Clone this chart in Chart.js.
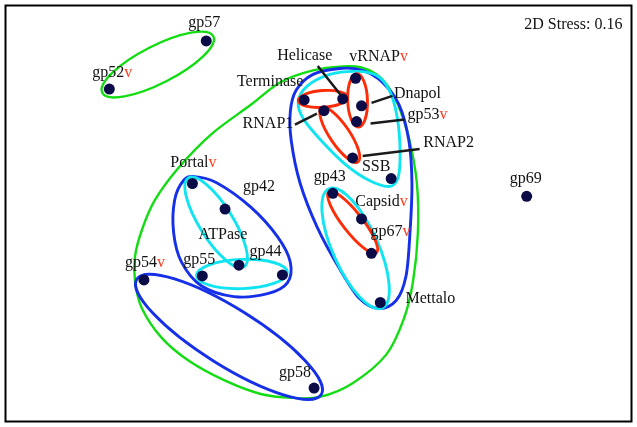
<!DOCTYPE html>
<html>
<head>
<meta charset="utf-8">
<script src="https://cdn.jsdelivr.net/npm/chart.js@4/dist/chart.umd.min.js"></script>
<style>
  html, body { margin: 0; padding: 0; background: #ffffff; }
  #wrap { width: 637px; height: 427px; }
</style>
</head>
<body>
<div id="wrap"><canvas id="mds" width="637" height="427"></canvas></div>
<script>
// Non-metric MDS ordination of gene clusters
const names = ['gp57','gp52','Terminase','Helicase','vRNAP','Dnapol','gp53','RNAP1','RNAP2','SSB',
               'gp43','Capsid','gp67','Mettalo','gp69','Portal','gp42','ATPase','gp55','gp44','gp54','gp58'];
const mdsX  = [-1.13,-2.11,-0.14, 0.25, 0.38, 0.44, 0.39, 0.06, 0.35, 0.74,
                0.15, 0.44, 0.54, 0.63, 2.11,-1.27,-0.94,-0.80,-1.17,-0.36,-1.76,-0.04];
const mdsY  = [ 1.75, 1.26, 1.15, 1.16, 1.37, 1.09, 0.93, 1.04, 0.56, 0.35,
                0.20,-0.06,-0.41,-0.91, 0.17, 0.30, 0.04,-0.53,-0.64,-0.63,-0.68,-1.78];
const markedNames = ['gp52','vRNAP','gp53','Capsid','gp67','Portal','gp54'];
const stressValue = 0.16;

// Cluster outlines drawn as ellipses: centre, semi-axes, rotation (degrees, counter-clockwise)
const ellipseClusters = [
  { level: 'g', cx: -1.62, cy:  1.51,  a: 0.63, b: 0.19,  angle:  27 },
  { level: 'b', cx: -0.90, cy: -1.26,  a: 1.10, b: 0.29,  angle: -32 },
  { level: 'c', cx: -1.03, cy: -0.095, a: 0.53, b: 0.17,  angle: -58 },
  { level: 'c', cx: -0.77, cy: -0.62,  a: 0.46, b: 0.148, angle:   2 },
  { level: 'c', cx:  0.38, cy: -0.36,  a: 0.66, b: 0.23,  angle: -66 },
  { level: 'r', cx:  0.05, cy:  1.16,  a: 0.25, b: 0.085, angle:   4 },
  { level: 'r', cx:  0.40, cy:  1.145, a: 0.27, b: 0.10,  angle: -88 },
  { level: 'r', cx:  0.22, cy:  0.795, a: 0.33, b: 0.10,  angle: -56 },
  { level: 'r', cx:  0.35, cy: -0.095, a: 0.39, b: 0.10,  angle: -52 }
];

// Cluster outlines drawn as smooth closed curves through these vertices
const greenOuterX = [0.25,-0.05,-0.38,-0.68,-1.08,-1.41,-1.65,-1.78,-1.85,-1.85,-1.78,-1.58,-1.31,-0.95,
                     -0.58,-0.25,0.02,0.35,0.69,0.87,0.96,1.01,1.00,0.92,0.81,0.70,0.59,0.44];
const greenOuterY = [1.49,1.45,1.33,1.10,0.80,0.46,0.13,-0.17,-0.44,-0.70,-0.97,-1.27,-1.50,-1.70,
                     -1.84,-1.88,-1.87,-1.73,-1.44,-1.07,-0.70,-0.20,0.30,0.76,1.10,1.30,1.41,1.48];
const blueRightX  = [0.22,0.45,0.65,0.82,0.92,0.95,0.93,0.89,0.79,0.61,0.42,0.22,-0.01,-0.18,-0.27,-0.28,-0.22,-0.05];
const blueRightY  = [1.47,1.45,1.33,1.10,0.73,0.30,-0.20,-0.64,-0.89,-0.97,-0.87,-0.57,-0.14,0.30,0.73,1.03,1.25,1.41];
const cyanTopX    = [-0.20,-0.11,0.12,0.39,0.59,0.72,0.80,0.83,0.81,0.72,0.52,0.27,0.02,-0.15];
const cyanTopY    = [1.13,1.29,1.41,1.44,1.40,1.25,0.98,0.63,0.36,0.27,0.33,0.50,0.75,0.96];
const blueLeftX   = [-1.25,-1.03,-0.68,-0.41,-0.28,-0.31,-0.51,-0.85,-1.18,-1.38,-1.46,-1.45,-1.36];
const blueLeftY   = [0.37,0.31,0.06,-0.24,-0.50,-0.71,-0.82,-0.85,-0.74,-0.50,-0.20,0.13,0.33];

const curveClusters = [
  { level: 'g', xs: greenOuterX, ys: greenOuterY },
  { level: 'b', xs: blueRightX,  ys: blueRightY },
  { level: 'b', xs: blueLeftX,   ys: blueLeftY },
  { level: 'c', xs: cyanTopX,    ys: cyanTopY }
];

// ---- styling / layout ----
const levelColour = { g: '#12dd12', b: '#1530e8', c: '#10e4f0', r: '#ff2c08' };
const levelWidth  = { g: 2.4, b: 2.9, c: 2.9, r: 2.9 };
const levelOrder = ['g', 'b', 'c', 'r'];
const FONT = '16px "Liberation Serif", "Times New Roman", serif';

// label centre offsets from the point (pixels)
const labelOffset = {
  gp57: [-2,-18], gp52: [3,-16], Terminase: [-34,-18], Helicase: [-38,-43], vRNAP: [23,-21],
  Dnapol: [56,-12], gp53: [71,-7], RNAP1: [-56,13], RNAP2: [96,-15], SSB: [-15,-12],
  gp43: [-3,-17], Capsid: [20,-17], gp67: [19,-22], Mettalo: [50,-4], gp69: [-1,-17],
  Portal: [1,-21], gp42: [34,-22], ATPase: [-16,-30], gp55: [-3,-16], gp44: [-17,-23],
  gp54: [1,-17], gp58: [-19,-15]
};
// leader lines: offsets from the point (pixels), [x1,y1,x2,y2]
const leaderOffset = {
  Helicase: [-2,-4,-25,-33],
  Dnapol:   [10,-3,31,-10],
  gp53:     [14,2,48,-2],
  RNAP1:    [-7,3,-29,14],
  RNAP2:    [10,-2,67,-9]
};

function closedSpline(ctx, pts) {
  const n = pts.length;
  ctx.beginPath();
  ctx.moveTo(pts[0][0], pts[0][1]);
  for (let i = 0; i < n; i++) {
    const p0 = pts[(i - 1 + n) % n], p1 = pts[i], p2 = pts[(i + 1) % n], p3 = pts[(i + 2) % n];
    const c1x = p1[0] + (p2[0] - p0[0]) / 6, c1y = p1[1] + (p2[1] - p0[1]) / 6;
    const c2x = p2[0] - (p3[0] - p1[0]) / 6, c2y = p2[1] - (p3[1] - p1[1]) / 6;
    ctx.bezierCurveTo(c1x, c1y, c2x, c2y, p2[0], p2[1]);
  }
  ctx.closePath();
  ctx.stroke();
}

const clusterPlugin = {
  id: 'clusterOutlines',
  beforeDatasetsDraw(chart) {
    const { ctx, scales: { x, y } } = chart;
    const unit = Math.abs(x.getPixelForValue(1) - x.getPixelForValue(0));
    ctx.save();
    ctx.lineJoin = 'round';
    levelOrder.forEach(lv => {
      ctx.strokeStyle = levelColour[lv];
      ctx.lineWidth = levelWidth[lv];
      curveClusters.filter(c => c.level === lv).forEach(c => {
        const pts = c.xs.map((v, i) => [x.getPixelForValue(v), y.getPixelForValue(c.ys[i])]);
        closedSpline(ctx, pts);
      });
      ellipseClusters.filter(e => e.level === lv).forEach(e => {
        ctx.beginPath();
        ctx.ellipse(x.getPixelForValue(e.cx), y.getPixelForValue(e.cy),
                    e.a * unit, e.b * unit, -e.angle * Math.PI / 180, 0, Math.PI * 2);
        ctx.stroke();
      });
    });
    ctx.restore();
  },
  afterDatasetsDraw(chart) {
    const { ctx, chartArea, scales: { x, y } } = chart;
    ctx.save();
    // leader lines
    ctx.strokeStyle = '#1a1a1a';
    ctx.lineWidth = 2.5;
    names.forEach((nm, i) => {
      const l = leaderOffset[nm];
      if (!l) return;
      const px = x.getPixelForValue(mdsX[i]), py = y.getPixelForValue(mdsY[i]);
      ctx.beginPath();
      ctx.moveTo(px + l[0], py + l[1]);
      ctx.lineTo(px + l[2], py + l[3]);
      ctx.stroke();
    });
    // labels
    ctx.font = FONT;
    ctx.textBaseline = 'middle';
    ctx.textAlign = 'left';
    names.forEach((nm, i) => {
      const px = x.getPixelForValue(mdsX[i]), py = y.getPixelForValue(mdsY[i]);
      const off = labelOffset[nm] || [0, -16];
      const marked = markedNames.includes(nm);
      const wBase = ctx.measureText(nm).width;
      const wMark = marked ? ctx.measureText('v').width : 0;
      const lx = px + off[0] - (wBase + wMark) / 2, ly = py + off[1];
      ctx.fillStyle = '#111111';
      ctx.fillText(nm, lx, ly);
      if (marked) {
        ctx.fillStyle = '#ff3a1a';
        ctx.fillText('v', lx + wBase, ly);
      }
    });
    // stress annotation
    ctx.fillStyle = '#111111';
    ctx.textAlign = 'right';
    ctx.fillText('2D Stress: ' + stressValue.toFixed(2), chartArea.right - 9, chartArea.top + 19);
    // frame
    ctx.strokeStyle = '#000000';
    ctx.lineWidth = 2;
    ctx.strokeRect(chartArea.left, chartArea.top, chartArea.right - chartArea.left, chartArea.bottom - chartArea.top);
    ctx.restore();
  }
};

new Chart(document.getElementById('mds'), {
  type: 'scatter',
  data: {
    datasets: [{
      label: 'genes',
      data: names.map((n, i) => ({ x: mdsX[i], y: mdsY[i] })),
      pointRadius: 5.5,
      pointHoverRadius: 5.5,
      backgroundColor: '#0b0b48',
      borderColor: '#0b0b48',
      borderWidth: 0
    }]
  },
  options: {
    responsive: false,
    animation: false,
    layout: { padding: 2 },
    plugins: { legend: { display: false }, tooltip: { enabled: false } },
    scales: {
      x: { type: 'linear', display: false, min: -3.16, max: 3.17 },
      y: { type: 'linear', display: false, min: -2.12, max: 2.11 }
    }
  },
  plugins: [clusterPlugin]
});
</script>
</body>
</html>
